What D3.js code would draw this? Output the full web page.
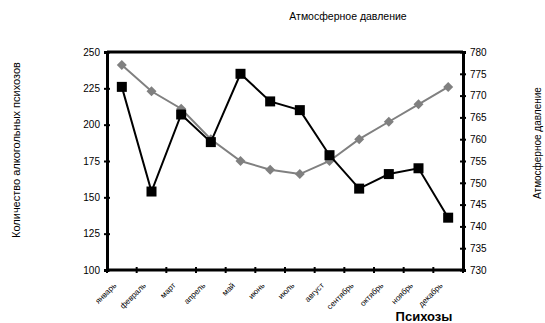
<!DOCTYPE html>
<html>
<head>
<meta charset="utf-8">
<script src="https://cdn.jsdelivr.net/npm/d3@7"></script>
<style>
  html, body { margin: 0; padding: 0; background: #fff; }
  svg { display: block; font-family: "Liberation Sans", Arial, sans-serif; }
</style>
</head>
<body>
<svg id="chart" width="545" height="323"></svg>
<script>
// Months
const months = ["январь", "февраль", "март", "апрель", "май", "июнь",
                "июль", "август", "сентябрь", "октябрь", "ноябрь", "декабрь"];
// Number of alcoholic psychoses per month (left axis)
const psychoses = [226, 154, 207, 188, 235, 216, 210, 179, 156, 166, 170, 136];
// Atmospheric pressure per month, mm Hg (right axis)
const pressure = [777, 771, 767, 760, 755, 753, 752, 755, 760, 764, 768, 772];
// Tick values
const leftTicks = [100, 125, 150, 175, 200, 225, 250];
const rightTicks = [730, 735, 740, 745, 750, 755, 760, 765, 770, 775, 780];

const svg = d3.select("#chart");
const m = { left: 107, right: 463, top: 52, bottom: 270 };

const x = d3.scaleBand().domain(months).range([m.left, m.right]);
const yL = d3.scaleLinear().domain([100, 250]).range([m.bottom, m.top]);
const yR = d3.scaleLinear().domain([730, 780]).range([m.bottom, m.top]);

// Frame top
svg.append("line").attr("x1", m.left).attr("x2", m.right)
  .attr("y1", m.top).attr("y2", m.top)
  .attr("stroke", "#000").attr("stroke-width", 3);

// Left axis
const gL = svg.append("g").attr("transform", `translate(${m.left},0)`)
  .call(d3.axisLeft(yL).tickValues(leftTicks).tickSize(3).tickPadding(4));
gL.selectAll(".tick line").attr("x2", 3).attr("x1", -3).attr("stroke-width", 2);
// Right axis
const gR = svg.append("g").attr("transform", `translate(${m.right},0)`)
  .call(d3.axisRight(yR).tickValues(rightTicks).tickSize(3).tickPadding(4));
gR.selectAll(".tick line").attr("x1", -3).attr("x2", 3).attr("stroke-width", 2);

// Bottom axis: ticks on band boundaries
const boundaries = months.map(d => x(d)).concat([m.right]);
const gB = svg.append("g").attr("transform", `translate(0,${m.bottom})`);
gB.append("line").attr("x1", m.left).attr("x2", m.right)
  .attr("stroke", "#000").attr("stroke-width", 3);
gB.selectAll("line.tk").data(boundaries).join("line").attr("class", "tk")
  .attr("x1", d => d).attr("x2", d => d).attr("y1", -3).attr("y2", 3)
  .attr("stroke", "#000").attr("stroke-width", 2);
gB.selectAll("text").data(months).join("text")
  .attr("transform", d => `translate(${x(d) + x.bandwidth() / 2 - 5},${16}) rotate(-45)`)
  .attr("text-anchor", "end")
  .attr("font-size", 8)
  .attr("fill", "#000")
  .text(d => d);

[gL, gR].forEach(g => {
  g.select(".domain").attr("stroke-width", 3);
  g.selectAll(".tick text").attr("font-size", 10).attr("fill", "#000");
  g.attr("font-family", null);
});

const cx = d => x(d) + x.bandwidth() / 2;

// Pressure series (grey diamonds)
svg.append("path").datum(pressure)
  .attr("fill", "none").attr("stroke", "#808080").attr("stroke-width", 2)
  .attr("d", d3.line().x((d, i) => cx(months[i])).y(d => yR(d)));
svg.selectAll("path.dia").data(pressure).join("path").attr("class", "dia")
  .attr("d", d3.symbol().type(d3.symbolSquare).size(50))
  .attr("transform", (d, i) => `translate(${cx(months[i])},${yR(d)}) rotate(45)`)
  .attr("fill", "#808080");

// Psychoses series (black squares)
svg.append("path").datum(psychoses)
  .attr("fill", "none").attr("stroke", "#000").attr("stroke-width", 2)
  .attr("d", d3.line().x((d, i) => cx(months[i])).y(d => yL(d)));
svg.selectAll("rect.sq").data(psychoses).join("rect").attr("class", "sq")
  .attr("x", (d, i) => cx(months[i]) - 5).attr("y", d => yL(d) - 5)
  .attr("width", 10).attr("height", 10).attr("fill", "#000");

// Titles
svg.append("text").attr("x", 348).attr("y", 20).attr("text-anchor", "middle")
  .attr("font-size", 10.5).text("Атмосферное давление");
svg.append("text").attr("transform", "translate(20,150) rotate(-90)")
  .attr("text-anchor", "middle").attr("font-size", 11)
  .text("Количество алкогольных психозов");
svg.append("text").attr("transform", "translate(541,143) rotate(-90)")
  .attr("text-anchor", "middle").attr("font-size", 10)
  .text("Атмосферное давление");
svg.append("text").attr("x", 424).attr("y", 321).attr("text-anchor", "middle")
  .attr("font-size", 13).attr("font-weight", "bold").text("Психозы");
</script>
</body>
</html>
